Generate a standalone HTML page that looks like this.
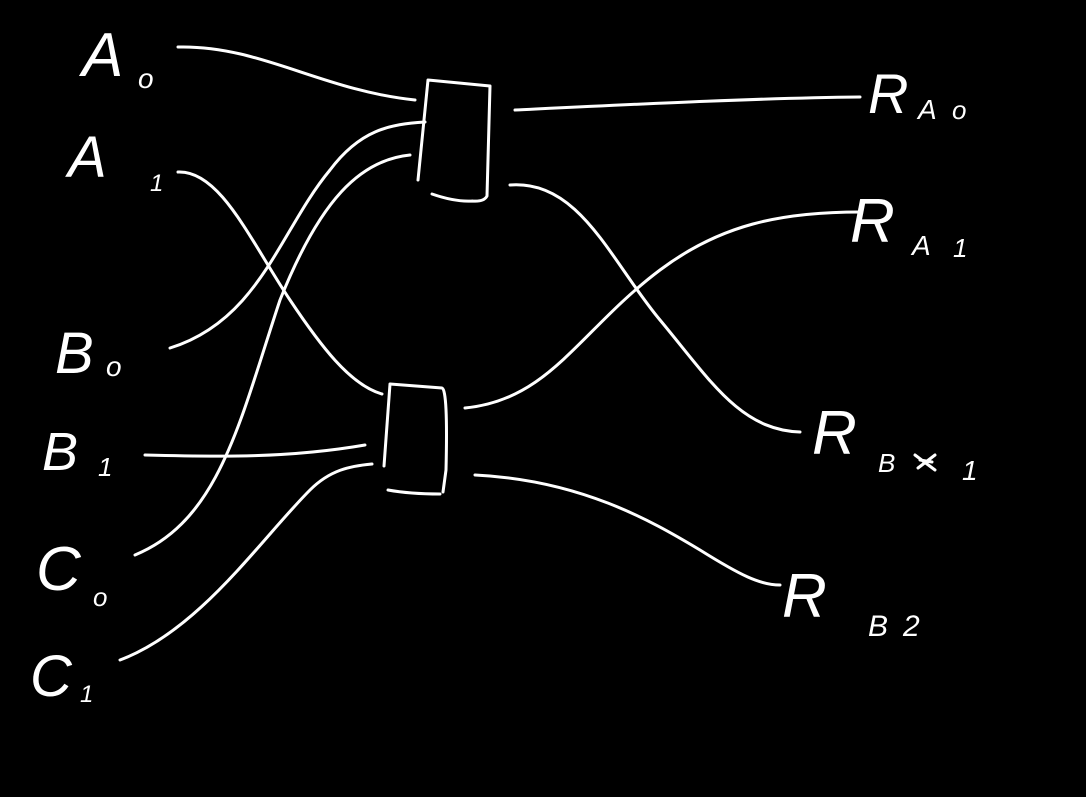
<!DOCTYPE html>
<html><head><meta charset="utf-8"><style>
html,body{margin:0;padding:0;background:#000;}
svg{display:block}
text{fill:#fff;font-family:"Liberation Sans",sans-serif;}
</style></head><body>
<svg width="1086" height="797" viewBox="0 0 1086 797" xmlns="http://www.w3.org/2000/svg">
<rect width="1086" height="797" fill="#000"/>
<g fill="none" stroke="#fff" stroke-width="3" stroke-linecap="round" stroke-linejoin="round">
<!-- box 1 -->
<path d="M428,80 L490,86 L487,196 Q484,202 472,201 M428,80 L418,180 M432,194 Q455,202 472,201"/>
<!-- box 2 -->
<path d="M390,384 L442,388 Q448,390 446,470 L443,492 M390,384 L384,466 M388,490 Q410,494 440,494"/>
<!-- inputs -->
<path d="M178,47 C260,45 320,90 415,100"/>
<path d="M178,172 C220,170 250,240 290,300 C320,345 350,385 382,394"/>
<path d="M170,348 C260,320 280,230 330,170 C360,130 390,124 425,122"/>
<path d="M145,455 C220,457 290,458 365,445"/>
<path d="M135,555 C220,520 240,420 280,300 C320,200 360,160 410,155"/>
<path d="M120,660 C200,630 260,540 310,490 C330,470 350,466 372,464"/>
<!-- outputs -->
<path d="M515,110 C640,104 760,98 860,97"/>
<path d="M510,185 C580,180 610,260 660,320 C710,380 740,430 800,432"/>
<path d="M465,408 C550,400 580,330 660,270 C720,225 780,212 860,212"/>
<path d="M475,475 C580,480 650,520 700,550 C740,575 760,585 780,585"/>
<!-- scribble on B1 label -->
<path d="M915,455 L935,470 M918,468 L935,455 M920,460 L932,462"/>
</g>
<g font-style="italic">
<text x="82" y="76" font-size="62">A</text>
<text x="138" y="88" font-size="28">o</text>
<text x="68" y="177" font-size="58">A</text>
<text x="150" y="191" font-size="24">1</text>
<text x="55" y="373" font-size="58">B</text>
<text x="106" y="376" font-size="28">o</text>
<text x="42" y="470" font-size="54">B</text>
<text x="98" y="476" font-size="26">1</text>
<text x="36" y="590" font-size="62">C</text>
<text x="93" y="606" font-size="26">o</text>
<text x="30" y="696" font-size="58">C</text>
<text x="80" y="702" font-size="24">1</text>
<text x="868" y="113" font-size="56">R</text>
<text x="918" y="119" font-size="28">A</text>
<text x="952" y="119" font-size="26">o</text>
<text x="850" y="242" font-size="62">R</text>
<text x="912" y="255" font-size="28">A</text>
<text x="953" y="257" font-size="26">1</text>
<text x="812" y="454" font-size="62">R</text>
<text x="878" y="472" font-size="26">B</text>
<text x="962" y="480" font-size="28">1</text>
<text x="782" y="617" font-size="62">R</text>
<text x="868" y="636" font-size="30">B</text>
<text x="903" y="636" font-size="30">2</text>
</g>
</svg>
</body></html>
